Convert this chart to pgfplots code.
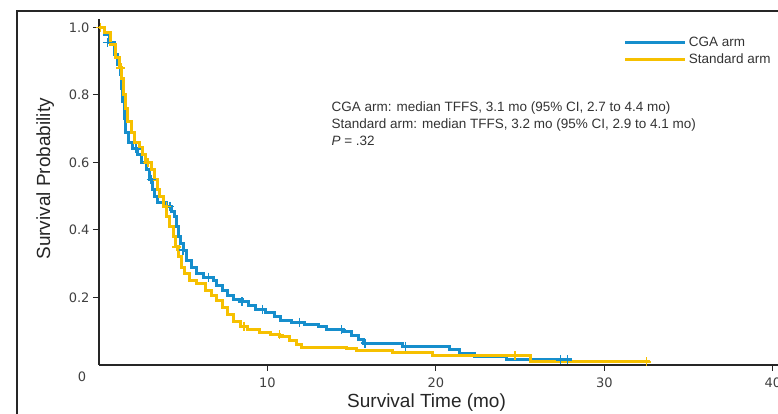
\documentclass[border=0pt]{standalone}
\usepackage{fontspec}
\setmainfont{Liberation Sans}
\newfontfamily\tickfam{DejaVu Sans}
\usepackage{pgfplots}
\pgfplotsset{compat=1.18}
\definecolor{cgablue}{RGB}{22,142,204}
\definecolor{stdyellow}{RGB}{246,192,0}
\newcommand\tickfont{\tickfam\fontsize{13}{15}\selectfont}
\newcommand\txtfont{\fontsize{13.5}{16}\selectfont}
\newcommand\labfont{\fontsize{19}{22}\selectfont}

\begin{document}
\begin{tikzpicture}
\begin{axis}[
  at={(0pt,0pt)}, anchor=south west,
  scale only axis, width=682.4pt, height=346pt,
  xmin=0, xmax=40.5, ymin=0, ymax=1.025,
  axis x line*=bottom, axis y line*=left,
  axis line style={line width=1.6pt, black!85},
  xtick={10,20,30,40}, ytick={0.2,0.4,0.6,0.8,1.0},
  extra x ticks={0}, extra x tick labels={0},
  extra x tick style={major tick length=0pt, xticklabel style={xshift=-17pt}},
  tick align=outside, major tick length=6pt,
  tick style={line width=1pt, black!85},
  ticklabel style={font=\tickfont, text=black!75},
  xticklabel style={yshift=-3pt},
  /pgf/number format/assume math mode=true,
  yticklabel style={/pgf/number format/.cd, fixed, fixed zerofill, precision=1},
  xlabel={Survival Time (mo)}, ylabel={Survival Probability},
  every axis x label/.style={at={(axis description cs:0.48,-0.11)}, anchor=center, font=\labfont, text=black!85},
  every axis y label/.style={at={(axis description cs:-0.079,0.538)}, rotate=90, anchor=center, font=\labfont, text=black!85},
  legend image code/.code={\draw[#1, line width=3.5pt] (0pt,0pt) -- (60pt,0pt);},
  legend cell align=left,
  legend style={draw=none, fill=none, at={(axis description cs:0.768,0.954)}, anchor=north west,
    inner sep=0pt, row sep=2pt, font=\txtfont, text=black!80},
]
% CGA arm
\addplot[const plot, cgablue, line width=3pt] table {
x y
0 1.0
0.3 0.98
0.6 0.955
0.9 0.92
1.1 0.89
1.25 0.86
1.35 0.82
1.42 0.78
1.5 0.73
1.6 0.69
1.75 0.66
2.0 0.64
2.3 0.625
2.5 0.60
2.8 0.58
3.0 0.55
3.15 0.52
3.3 0.50
3.5 0.48
4.0 0.47
4.3 0.455
4.5 0.44
4.6 0.41
4.7 0.38
4.85 0.36
5.0 0.34
5.2 0.31
5.5 0.29
5.8 0.27
6.2 0.26
6.8 0.25
7.0 0.235
7.3 0.22
7.6 0.205
8.0 0.195
8.5 0.187
8.9 0.175
9.3 0.165
9.9 0.155
10.4 0.145
10.8 0.133
11.4 0.126
12.2 0.12
13.0 0.115
13.5 0.105
14.5 0.098
15.0 0.088
15.4 0.075
15.7 0.065
18.0 0.056
20.8 0.045
21.4 0.034
22.3 0.024
24.2 0.015
28.1 0.015
};
\addlegendentry{CGA arm}
% Standard arm
\addplot[const plot, stdyellow, line width=3pt] table {
x y
0 1.0
0.3 0.985
0.7 0.95
1.0 0.91
1.2 0.88
1.35 0.85
1.45 0.80
1.55 0.76
1.7 0.72
1.9 0.69
2.1 0.66
2.4 0.645
2.6 0.625
2.75 0.60
3.1 0.58
3.3 0.55
3.45 0.52
3.6 0.50
3.8 0.47
4.0 0.44
4.2 0.41
4.4 0.38
4.55 0.35
4.7 0.32
4.9 0.29
5.1 0.27
5.4 0.25
5.8 0.24
6.3 0.222
6.7 0.205
7.0 0.19
7.3 0.17
7.6 0.15
8.0 0.128
8.4 0.115
8.8 0.104
9.5 0.097
10.2 0.09
10.7 0.083
11.3 0.074
11.7 0.062
12.0 0.053
14.7 0.05
15.3 0.044
17.4 0.037
19.8 0.027
25.6 0.009
32.7 0.009
};
\addlegendentry{Standard arm}
% censoring marks
\addplot[only marks, mark=+, mark size=4.5pt, cgablue, line width=1.5pt, forget plot] table {
x y
0.5 0.955
2.2 0.64
3.1 0.55
4.2 0.47
5.0 0.34
6.5 0.26
8.5 0.187
9.7 0.165
11.9 0.126
14.4 0.105
15.8 0.065
18.2 0.056
27.4 0.015
27.8 0.015
};
\addplot[only marks, mark=+, mark size=4.5pt, stdyellow, line width=1.5pt, forget plot] table {
x y
0.1 1.0
1.3 0.88
2.9 0.60
4.0 0.47
4.6 0.35
8.6 0.115
10.7 0.09
24.7 0.027
32.5 0.009
};
\end{axis}
\node[anchor=base west, font=\txtfont, text=black!80] at (229pt,253pt) {CGA arm: median TFFS, 3.1 mo (95\% CI, 2.7 to 4.4 mo)};
\node[anchor=base west, font=\txtfont, text=black!80] at (229pt,236pt) {Standard arm: median TFFS, 3.2 mo (95\% CI, 2.9 to 4.1 mo)};
\node[anchor=base west, font=\txtfont, text=black!80] at (229pt,219pt) {\textit{P} = .32};
\draw[line width=1.6pt, black!85] (700pt,354pt) -- (-82pt,354pt) -- (-82pt,-70pt);
\pgfresetboundingbox
\useasboundingbox (-99pt,-49pt) rectangle (679pt,365pt);
\end{tikzpicture}
\end{document}
